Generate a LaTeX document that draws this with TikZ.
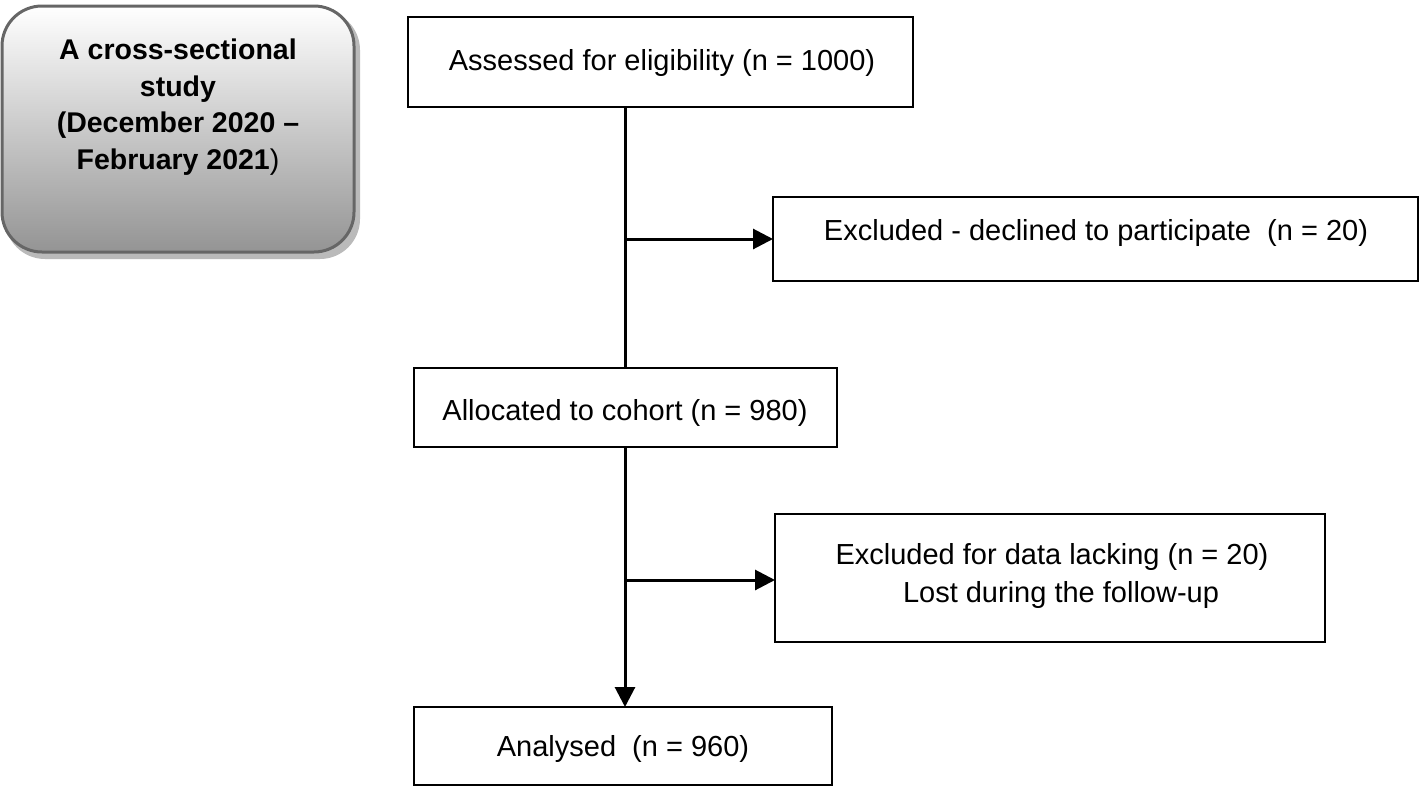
\documentclass[tikz,border=0pt]{standalone}
\usepackage{fontspec}
\setmainfont{Liberation Sans}
\usetikzlibrary{arrows.meta,shadows,calc}
\begin{document}
\begin{tikzpicture}[x=1pt,y=-1pt,
  box/.style={draw=black,line width=2pt,fill=white},
  lbl/.style={inner sep=0pt,font=\fontsize{29}{38}\selectfont,align=center},
  conn/.style={line width=3pt,-{Triangle[length=20pt,width=20pt]}},
  plain/.style={line width=3pt}]
\useasboundingbox (0,0) rectangle (1424,787);
% study box
\path[rounded corners=40pt,fill=black!45,opacity=0.6] (5,10) rectangle (360,259);
\shade[rounded corners=40pt,top color=white,bottom color=black!42,draw=black!60,line width=3pt]
  (2,6) rectangle (354,252);
\node[lbl,font=\bfseries\fontsize{28.5}{36.5}\selectfont] (study) at (178,107)
  {A cross-sectional\\study\\ (December 2020 --\\February 2021\textmd{)}};
% boxes
\draw[box] (408,17) rectangle (913,107);
\node[lbl] (assessed) at (662,63) {Assessed for eligibility (n = 1000)};
\coordinate (assB) at (625,107);
\draw[box] (773,197) rectangle (1418,281);
\node[lbl] (excl1) at (1096,233) {Excluded - declined to participate\ \ (n = 20)};
\coordinate (ex1L) at (773,239);
\draw[box] (414,368) rectangle (837,447);
\node[lbl] (alloc) at (625,413) {Allocated to cohort (n = 980)};
\coordinate (allT) at (625,368);
\coordinate (allB) at (625,447);
\draw[box] (775,514) rectangle (1325,642);
\node[lbl] (excl2) at (1052,576) {Excluded for data lacking (n = 20)\\\hspace*{18pt}Lost during the follow-up};
\coordinate (ex2L) at (775,580);
\draw[box] (414,707) rectangle (832,785);
\node[lbl] (anal) at (623,749) {Analysed\ \ (n = 960)};
\coordinate (anT) at (625,707);
% connectors
\draw[plain] (assB) -- (allT);
\draw[conn] (assB |- ex1L) -- (ex1L);
\draw[conn] (allB) -- (anT);
\draw[conn] (allB |- ex2L) -- (ex2L);
\end{tikzpicture}
\end{document}
